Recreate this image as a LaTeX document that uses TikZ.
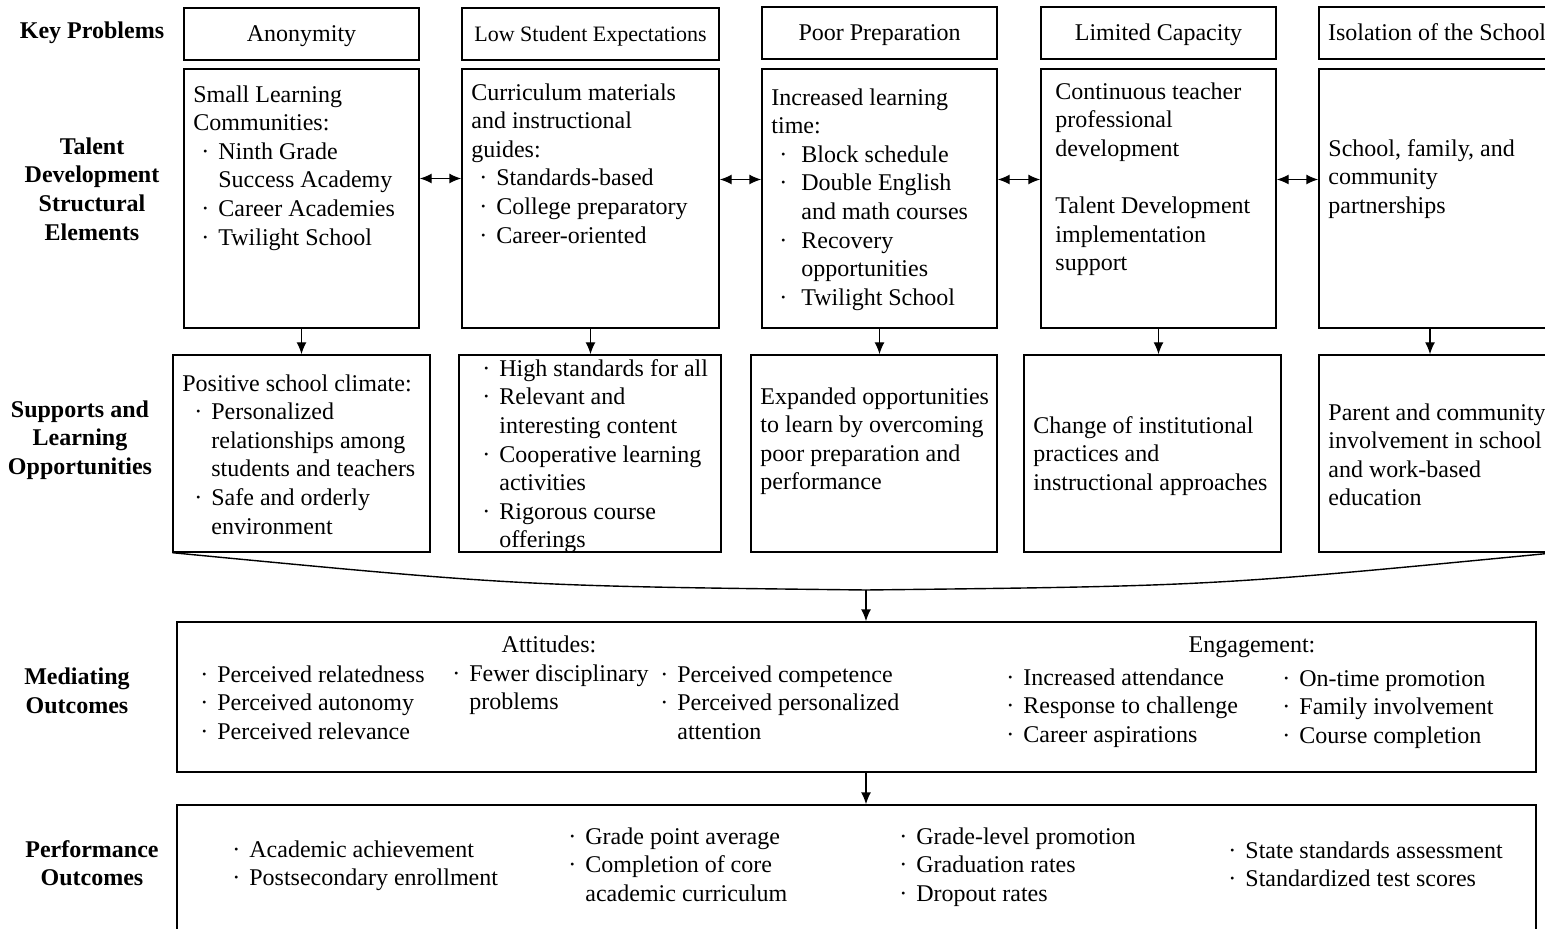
\documentclass[tikz,border=0pt]{standalone}
\usepackage{fontspec}
\setmainfont{Liberation Serif}
\usetikzlibrary{arrows.meta}
\newcommand{\dotmark}{\makebox[8.5pt][l]{·}}
\newcommand{\dotgap}{\hspace*{8.5pt}}
\newcommand{\subdot}{\hspace*{4pt}\dotmark}
\newcommand{\subgap}{\hspace*{12.5pt}}
\newcommand{\widedot}{\hspace*{4pt}\makebox[11pt][l]{·}}
\newcommand{\widegap}{\hspace*{15pt}}
\tikzset{
  box/.style={draw, rectangle, line width=0.7pt, inner sep=0pt},
  problembox/.style={box, minimum height=26pt, text height=10pt, text depth=2pt, font=\fontsize{12}{14.3}\selectfont},
  textblock/.style={anchor=north west, inner sep=0pt, align=left, font=\fontsize{12}{14.3}\selectfont},
  rowlabel/.style={align=center, inner sep=0pt, font=\fontsize{12}{14.3}\selectfont\bfseries},
  arrow/.style={-{Latex[length=6pt, width=5pt]}, line width=0.7pt},
  dblarrow/.style={{Latex[length=6pt, width=5pt]}-{Latex[length=6pt, width=5pt]}, line width=0.7pt},
  funnel/.style={line width=0.7pt}
}

\begin{document}
\begin{tikzpicture}[x=0.5pt, y=-0.5pt]
\useasboundingbox (0,0) rectangle (1545,929);
\clip (0,0) rectangle (1545,929);

% Row labels
\node[rowlabel] (lkp) at (92,33) {Key Problems};
\node[rowlabel] (lse) at (92,189) {Talent\\Development\\Structural\\Elements};
\node[rowlabel] (lsl) at (80,440) {Supports and\\Learning\\Opportunities};
\node[rowlabel] (lmo) at (77,691) {Mediating\\Outcomes};
\node[rowlabel] (lpo) at (92,863) {Performance\\Outcomes};

% Key problems
\node[problembox, minimum width=117.5pt] (kp1) at (301.5,34) {Anonymity};
\node[problembox, minimum width=128.5pt, font=\fontsize{11}{13}\selectfont] (kp2) at (590.5,34) {Low Student Expectations};
\node[problembox, minimum width=117.5pt] (kp3) at (879.5,33) {Poor Preparation};
\node[problembox, minimum width=117.5pt] (kp4) at (1158.5,33) {Limited Capacity};
\node[problembox, minimum width=118pt] (kp5) at (1437,33) {Isolation of the School};

% Structural elements
\node[box, minimum width=117.5pt, minimum height=129.5pt] (se1) at (301.5,198.5) {};
\node[box, minimum width=128.5pt, minimum height=129.5pt] (se2) at (590.5,198.5) {};
\node[box, minimum width=117.5pt, minimum height=129.5pt] (se3) at (879.5,198.5) {};
\node[box, minimum width=117.5pt, minimum height=129.5pt] (se4) at (1158.5,198.5) {};
\node[box, minimum width=118pt, minimum height=129.5pt] (se5) at (1437,198.5) {};

\node[textblock] (se1t) at (193,85) {Small Learning\\Communities:\\\subdot Ninth Grade\\\subgap Success Academy\\\subdot Career Academies\\\subdot Twilight School};
\node[textblock] (se2t) at (471,83) {Curriculum materials\\and instructional\\guides:\\\subdot Standards-based\\\subdot College preparatory\\\subdot Career-oriented};
\node[textblock] (se3t) at (771,88) {Increased learning\\time:\\\widedot Block schedule\\\widedot Double English\\\widegap and math courses\\\widedot Recovery\\\widegap opportunities\\\widedot Twilight School};
\node[textblock] (se4t) at (1055,82) {Continuous teacher\\professional\\development\\[14.3pt]Talent Development\\implementation\\support};
\node[textblock] (se5t) at (1328,139) {School, family, and\\community\\partnerships};

% Supports and learning opportunities
\node[box, minimum width=128.5pt, minimum height=98.5pt] (sl1) at (301.5,453.5) {};
\node[box, minimum width=131pt, minimum height=98.5pt] (sl2) at (590,453.5) {};
\node[box, minimum width=123pt, minimum height=98.5pt] (sl3) at (874,453.5) {};
\node[box, minimum width=128.5pt, minimum height=98.5pt] (sl4) at (1152.5,453.5) {};
\node[box, minimum width=118pt, minimum height=98.5pt] (sl5) at (1437,453.5) {};

\node[textblock] (sl1t) at (182,374) {Positive school climate:\\\hspace*{6pt}\dotmark Personalized\\\hspace*{14.5pt}relationships among\\\hspace*{14.5pt}students and teachers\\\hspace*{6pt}\dotmark Safe and orderly\\\hspace*{14.5pt}environment};
\node[textblock] (sl2t) at (482,359) {\dotmark High standards for all\\\dotmark Relevant and\\\dotgap interesting content\\\dotmark Cooperative learning\\\dotgap activities\\\dotmark Rigorous course\\\dotgap offerings};
\node[textblock] (sl3t) at (760,387) {Expanded opportunities\\to learn by overcoming\\poor preparation and\\performance};
\node[textblock] (sl4t) at (1033,416) {Change of institutional\\practices and\\instructional approaches};
\node[textblock] (sl5t) at (1328,403) {Parent and community\\involvement in school\\and work-based\\education};

% Mediating outcomes
\node[box, minimum width=679.5pt, minimum height=75pt] (mo) at (856.5,697) {};
\node[textblock, anchor=base] (att) at (549,652) {Attitudes:};
\node[textblock] (mo1) at (200,665) {\dotmark Perceived relatedness\\\dotmark Perceived autonomy\\\dotmark Perceived relevance};
\node[textblock] (mo2) at (452,664) {\dotmark Fewer disciplinary\\\dotgap problems};
\node[textblock] (mo3) at (660,665) {\dotmark Perceived competence\\\dotmark Perceived personalized\\\dotgap attention};
\node[textblock, anchor=base] (eng) at (1252,652) {Engagement:};
\node[textblock] (mo4) at (1006,668) {\dotmark Increased attendance\\\dotmark Response to challenge\\\dotmark Career aspirations};
\node[textblock] (mo5) at (1282,670) {\dotmark On-time promotion\\\dotmark Family involvement\\\dotmark Course completion};

% Performance outcomes
\node[box, minimum width=679.5pt, minimum height=77.5pt] (po) at (856.5,882.5) {};
\node[textblock] (po1) at (232,840) {\dotmark Academic achievement\\\dotmark Postsecondary enrollment};
\node[textblock] (po2) at (568,827) {\dotmark Grade point average\\\dotmark Completion of core\\\dotgap academic curriculum};
\node[textblock] (po3) at (899,827) {\dotmark Grade-level promotion\\\dotmark Graduation rates\\\dotmark Dropout rates};
\node[textblock] (po4) at (1228,841) {\dotmark State standards assessment\\\dotmark Standardized test scores};

% Connections
\draw[dblarrow] ([yshift=10pt]se1.east) -- ([yshift=10pt]se2.west);
\draw[dblarrow] ([yshift=9.5pt]se2.east) -- ([yshift=9.5pt]se3.west);
\draw[dblarrow] ([yshift=9.5pt]se3.east) -- ([yshift=9.5pt]se4.west);
\draw[dblarrow] ([yshift=9.5pt]se4.east) -- ([yshift=9.5pt]se5.west);
\draw[arrow] (se1.south) -- (se1.south |- sl1.north);
\draw[arrow] (se2.south) -- (se2.south |- sl2.north);
\draw[arrow] (se3.south) -- (se3.south |- sl3.north);
\draw[arrow] (se4.south) -- (se4.south |- sl4.north);
\draw[arrow] ([xshift=-3.5pt]se5.south) -- ([xshift=-3.5pt]se5.south |- sl5.north);

\coordinate (join) at (866,590);
\draw[funnel] (sl1.south west) .. controls (520,586) .. (join);
\draw[funnel] (sl5.south east) .. controls (1212,586) .. (join);
\draw[arrow] (join) -- (join |- mo.north);
\draw[arrow] (mo.south -| join) -- (po.north -| join);

\end{tikzpicture}
\end{document}
